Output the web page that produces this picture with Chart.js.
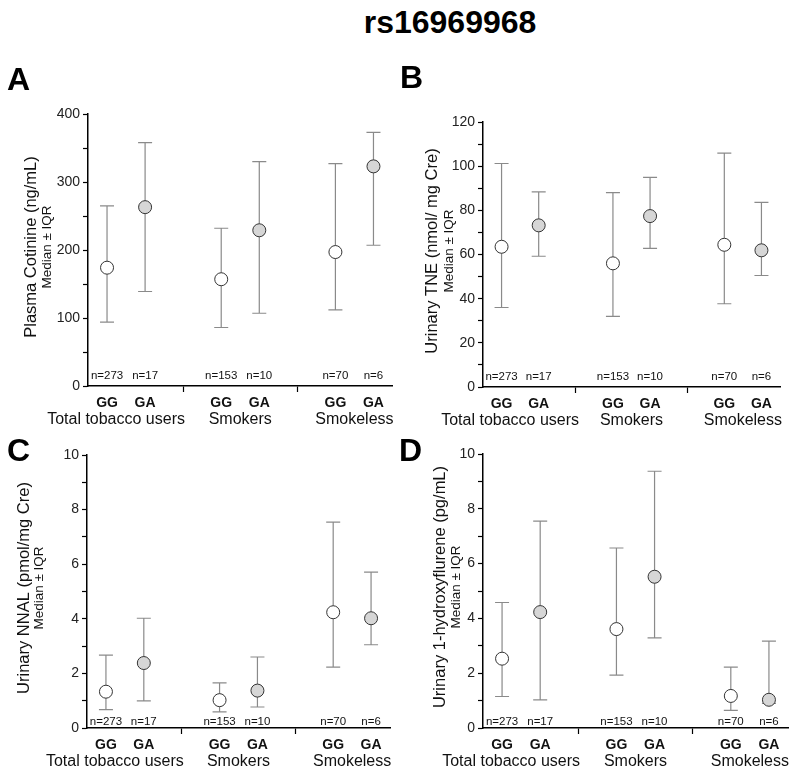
<!DOCTYPE html>
<html lang="en">
<head>
  <meta charset="UTF-8">
  <title>rs16969968</title>
  <script src="https://cdn.jsdelivr.net/npm/chart.js"></script>
  <style>
    body { margin: 0; background: #fff; font-family: "Liberation Sans", Arial, sans-serif; }
    #wrap { position: relative; width: 800px; height: 778px; overflow: hidden; }
    .title {
      position: absolute; left: 350px; top: 6px; width: 200px;
      text-align: center; font-size: 32px; line-height: 32px; font-weight: bold; color: #000;
    }
    .letter { position: absolute; font-size: 32px; line-height: 32px; font-weight: bold; color: #000; }
    canvas { position: absolute; }
  </style>
</head>
<body>
  <div id="wrap">
    <div class="title">rs16969968</div>
    <canvas id="cA" width="400" height="440" style="left:0;top:0"></canvas>
    <canvas id="cB" width="400" height="440" style="left:400px;top:0"></canvas>
    <canvas id="cC" width="400" height="358" style="left:0;top:420px"></canvas>
    <canvas id="cD" width="400" height="358" style="left:400px;top:420px"></canvas>
    <div class="letter" style="left:7px;top:63px">A</div>
    <div class="letter" style="left:400px;top:61px">B</div>
    <div class="letter" style="left:7px;top:434px">C</div>
    <div class="letter" style="left:399px;top:434px">D</div>
  </div>

  <script>
    // groups and genotypes (GG, GA pairs)
    const groups = ['Total tobacco users', 'Smokers', 'Smokeless'];
    const genotypes = ['GG', 'GA', 'GG', 'GA', 'GG', 'GA'];
    const nLabels = ['n=273', 'n=17', 'n=153', 'n=10', 'n=70', 'n=6'];
    const xPos = [0, 1, 3, 4, 6, 7];

    // A: plasma cotinine
    const cotMedian = [174, 263, 157, 229, 197, 323];
    const cotQ1 = [94, 139, 86, 107, 112, 207];
    const cotQ3 = [265, 358, 232, 330, 327, 373];

    // B: urinary TNE
    const tneMedian = [63.5, 73.2, 56, 77.4, 64.4, 61.9];
    const tneQ1 = [36, 59.2, 32, 62.8, 37.7, 50.5];
    const tneQ3 = [101.2, 88.4, 88, 94.9, 105.9, 83.6];

    // C: urinary NNAL
    const nnalMedian = [1.33, 2.38, 1.02, 1.37, 4.24, 4.02];
    const nnalQ1 = [0.67, 0.99, 0.59, 0.77, 2.23, 3.05];
    const nnalQ3 = [2.67, 4.02, 1.65, 2.6, 7.54, 5.71];

    // D: urinary 1-hydroxyfluorene
    const fluMedian = [2.53, 4.23, 3.61, 5.52, 1.17, 1.03];
    const fluQ1 = [1.15, 1.03, 1.93, 3.29, 0.64, 0.9];
    const fluQ3 = [4.58, 7.55, 6.57, 9.37, 2.22, 3.17];

    const FONT = '"Liberation Sans", Arial, sans-serif';
    Chart.defaults.font.family = FONT;
    Chart.defaults.color = '#222';

    // draws IQR whiskers, n counts, genotype/group labels and y titles
    const panelPlugin = {
      id: 'panel',
      beforeDatasetsDraw(chart) {
        const o = chart.options.plugins.panel;
        const xs = chart.scales.x, ys = chart.scales.y, ctx = chart.ctx;
        ctx.save();
        ctx.strokeStyle = '#8a8a8a';
        ctx.lineWidth = 1.2;
        xPos.forEach((v, i) => {
          const x = xs.getPixelForValue(v);
          const y1 = ys.getPixelForValue(o.q1[i]);
          const y3 = ys.getPixelForValue(o.q3[i]);
          ctx.beginPath();
          ctx.moveTo(x, y1); ctx.lineTo(x, y3);
          ctx.moveTo(x - 7, y1); ctx.lineTo(x + 7, y1);
          ctx.moveTo(x - 7, y3); ctx.lineTo(x + 7, y3);
          ctx.stroke();
        });
        ctx.restore();
      },
      afterDraw(chart) {
        const o = chart.options.plugins.panel;
        const xs = chart.scales.x, ctx = chart.ctx;
        const bottom = chart.chartArea.bottom;
        ctx.save();
        ctx.fillStyle = '#111';
        ctx.textAlign = 'center';
        ctx.textBaseline = 'middle';
        xPos.forEach((v, i) => {
          const x = xs.getPixelForValue(v);
          ctx.font = '11.5px ' + FONT;
          ctx.fillText(nLabels[i], x, bottom - o.nOff);
          ctx.font = 'bold 14px ' + FONT;
          ctx.fillText(genotypes[i], x, bottom + 17);
        });
        ctx.font = '16px ' + FONT;
        groups.forEach((g, k) => {
          let x = (xs.getPixelForValue(xPos[2 * k]) + xs.getPixelForValue(xPos[2 * k + 1])) / 2;
          if (k === 0) x -= 10;
          ctx.fillText(g, x, bottom + 34);
        });
        // rotated y titles
        ctx.translate(o.titleX, o.titleY);
        ctx.rotate(-Math.PI / 2);
        ctx.font = '16.5px ' + FONT;
        ctx.fillText(o.title, 0, 0);
        ctx.font = '13.5px ' + FONT;
        ctx.fillText('Median \u00b1 IQR', 0, o.medX - o.titleX);
        ctx.restore();
      }
    };

    function makePanel(id, area, w, h, med, q1, q3, yMax, minor, major, title, extra) {
      new Chart(document.getElementById(id), {
        type: 'scatter',
        data: {
          datasets: [{
            data: xPos.map((x, i) => ({ x: x, y: med[i] })),
            backgroundColor: genotypes.map(g => g === 'GG' ? '#ffffff' : '#d6d6d6'),
            borderColor: '#333',
            borderWidth: 1,
            pointRadius: 6.5,
            pointHoverRadius: 6.5
          }]
        },
        options: {
          responsive: false,
          animation: false,
          events: [],
          layout: { padding: { left: 0, top: area.t, right: w - area.r, bottom: 0 } },
          scales: {
            x: {
              type: 'linear', min: -0.5, max: 7.5,
              afterBuildTicks: s => { s.ticks = [{ value: 2 }, { value: 5 }]; },
              afterFit: s => { s.height = h - area.b; },
              ticks: { callback: () => '' },
              grid: { drawOnChartArea: false, tickLength: 6, color: '#000', tickWidth: 1.2 },
              border: { color: '#000', width: 1.5 }
            },
            y: {
              min: 0, max: yMax,
              afterBuildTicks: s => {
                const t = [];
                for (let v = 0; v <= yMax + 1e-9; v += minor) t.push({ value: v });
                s.ticks = t;
              },
              afterFit: s => { s.width = area.l; },
              ticks: {
                padding: 3,
                font: { size: 14 },
                color: '#222',
                callback: v => (Math.round(v) % major === 0 ? v : '')
              },
              grid: { drawOnChartArea: false, tickLength: 5, color: '#000', tickWidth: 1.2 },
              border: { color: '#000', width: 1.5 }
            }
          },
          plugins: {
            legend: { display: false },
            tooltip: { enabled: false },
            panel: Object.assign({ q1: q1, q3: q3, title: title }, extra)
          }
        },
        plugins: [panelPlugin]
      });
    }

    makePanel('cA', { l: 88, t: 114, r: 393, b: 386 }, 400, 440, cotMedian, cotQ1, cotQ3,
      400, 50, 100, 'Plasma Cotinine (ng/mL)', { nOff: 10, titleX: 31, medX: 47, titleY: 247 });
    makePanel('cB', { l: 83, t: 122, r: 380, b: 387 }, 400, 440, tneMedian, tneQ1, tneQ3,
      120, 10, 20, 'Urinary TNE (nmol/ mg Cre)', { nOff: 10, titleX: 32, medX: 49, titleY: 251 });
    makePanel('cC', { l: 87, t: 35, r: 390, b: 308 }, 400, 358, nnalMedian, nnalQ1, nnalQ3,
      10, 1, 2, 'Urinary NNAL (pmol/mg Cre)', { nOff: 6, titleX: 24, medX: 39, titleY: 168 });
    makePanel('cD', { l: 83, t: 34, r: 388, b: 308 }, 400, 358, fluMedian, fluQ1, fluQ3,
      10, 1, 2, 'Urinary 1-hydroxyflurene (pg/mL)', { nOff: 6, titleX: 40, medX: 56, titleY: 167 });
  </script>
</body>
</html>
